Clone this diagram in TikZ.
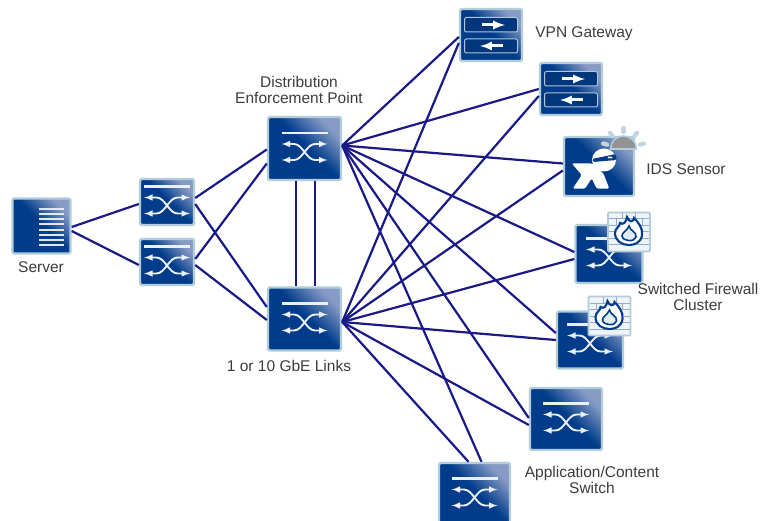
\documentclass[tikz,border=0pt]{standalone}
\usepackage{fontspec}
\setmainfont{Liberation Sans}
\definecolor{swdark}{RGB}{0,60,138}
\definecolor{swlight}{RGB}{135,155,198}
\definecolor{swframe}{RGB}{178,204,218}
\definecolor{linkblue}{RGB}{25,25,135}
\definecolor{labelgray}{RGB}{60,60,60}
\definecolor{brickline}{RGB}{150,170,205}
\pgfdeclareverticalshading{iconfade}{100bp}{color(0bp)=(swdark); color(52bp)=(swdark); color(74bp)=(swlight); color(100bp)=(swlight)}
\tikzset{
    iconbox/.style={draw=swframe, line width=2.4pt, rounded corners=1.5pt, shading=iconfade, shading angle=-45, inner sep=0pt},
    link/.style={draw=linkblue, line width=2.2pt},
    label/.style={text=labelgray, font=\fontsize{15.5}{15.5}\selectfont, align=center, inner sep=0pt},
    swbox/.style={iconbox, path picture={
        \begin{scope}[shift={(path picture bounding box.center)}, scale=#1, white!92!swdark, line width=1.9pt, >=latex]
            \draw[line width=2.4pt] (-23,-15.5) -- (23,-15.5);
            \draw[<->] (-23,-4.5) -- (-12,-4.5) .. controls (-2,-4.5) and (2,11.5) .. (12,11.5) -- (23,11.5);
            \draw[<->] (-23,11.5) -- (-12,11.5) .. controls (-2,11.5) and (2,-4.5) .. (12,-4.5) -- (23,-4.5);
        \end{scope}}},
    vpnbox/.style={iconbox, path picture={
        \begin{scope}[shift={(path picture bounding box.center)}, white!70!swdark, line width=1pt]
            \draw[fill=swdark!90!black, rounded corners=2pt] (-26.5,-17.5) rectangle (26.5,-3);
            \draw[fill=swdark!90!black, rounded corners=2pt] (-26.5,4) rectangle (26.5,18);
            \draw[white, line width=3pt, -latex] (-9,-10) -- (14,-10);
            \draw[white, line width=3pt, -latex] (12,11) -- (-11,11);
        \end{scope}}},
    serverbox/.style={iconbox, path picture={
        \begin{scope}[shift={(path picture bounding box.center)}, white!88!swdark, line width=1.7pt]
            \foreach \rowy in {-17,-12,-7,-2,4,9,14,19}
                \draw (-2.5,\rowy) -- (22.5,\rowy);
        \end{scope}}},
    idsbox/.style={iconbox, path picture={
        \begin{scope}[shift={(path picture bounding box.center)}]
            \fill[white] (-27.3,-3.2) -- (-7.3,-3.2) -- (4.3,6.8) -- (10.3,22.2) -- (-2.3,22.2) -- (-7.3,11.8)
                -- (-14,22.2) -- (-26.3,22.2) -- (-17.3,8.5) -- cycle;
            \fill[white] (5,-6.5) ellipse (12 and 11.5);
            \fill[swdark] (-7,-7.5) -- (17,-12.5) -- (17.5,-6.5) -- (-6,-4.5) -- cycle;
            \fill[white] (11,-9) ellipse (2.5 and 1);
        \end{scope}}},
    fwbadge/.pic={
        \draw[swframe, fill=white!78!swframe, line width=1.6pt, rounded corners=1pt] (-21,-19.5) rectangle (21,19.5);
        \foreach \rowy in {-13,-6.5,0,6.5,13}
            \draw[brickline, line width=1pt] (-20,\rowy) -- (20,\rowy);
        \foreach \colx in {-13,0,13}
            \foreach \rowy in {-13,0}
                \draw[brickline, line width=1pt] (\colx,\rowy) -- (\colx,\rowy+6.5);
        \foreach \colx in {-6.5,6.5}
            \foreach \rowy in {-19.5,-6.5,6.5}
                \draw[brickline, line width=1pt] (\colx,\rowy) -- (\colx,\rowy+6.5);
        \draw[swdark, fill=white, line width=2.1pt] (-2,-15) .. controls (0,-9) and (5,-10) .. (5,-14)
            .. controls (9,-10) and (14,-4) .. (13,3) .. controls (12,11) and (5,13) .. (0,13)
            .. controls (-7,13) and (-14,9) .. (-14,1) .. controls (-14,-4) and (-9,-5) .. (-9,-9)
            .. controls (-6,-7) and (-3,-9) .. (-2,-15) -- cycle;
        \draw[swdark, fill=white!60!swframe, line width=1.6pt] (0,-6) .. controls (1,-1) and (8,0) .. (7,5)
            .. controls (6,10) and (-6,10) .. (-7,4) .. controls (-7,0) and (-2,-1) .. (0,-6) -- cycle;
    },
    sunbadge/.pic={
        \foreach \rayang in {-165,-130,-90,-50,-15}
            \draw[swframe!80!white, line width=4.4pt, line cap=round] (\rayang:17) -- (\rayang:21);
        \draw[swframe, fill=gray!85!white, line width=1.6pt] (-13,0) arc[start angle=180, end angle=360, radius=13] -- cycle;
    }
}
\begin{document}
\begin{tikzpicture}[x=1pt, y=-1pt]
    \clip (0,0) rectangle (768,521);
    \fill[white] (0,0) rectangle (768,521);

    \node[serverbox, minimum width=58pt, minimum height=55pt] (server) at (41.5,226) {};
    \node[swbox=.74, minimum width=54pt, minimum height=46pt] (edgea) at (167,202) {};
    \node[swbox=.74, minimum width=54pt, minimum height=46pt] (edgeb) at (167,262) {};
    \node[swbox=1, minimum width=73pt, minimum height=63pt] (dist) at (304.5,148.5) {};
    \node[swbox=1, minimum width=73pt, minimum height=63pt] (core) at (304.5,319) {};
    \node[vpnbox, minimum width=62pt, minimum height=52pt] (vpna) at (491,35) {};
    \node[vpnbox, minimum width=62pt, minimum height=52pt] (vpnb) at (571,89) {};
    \node[idsbox, minimum width=70pt, minimum height=59pt] (ids) at (599,166.5) {};
    \node[swbox=.88, minimum width=67pt, minimum height=58pt] (fwa) at (609,254) {};
    \node[swbox=.88, minimum width=66pt, minimum height=57pt] (fwb) at (590,340) {};
    \node[swbox=1, minimum width=72pt, minimum height=62pt] (app) at (566,419) {};
    \node[swbox=1, minimum width=71pt, minimum height=62pt] (low) at (474.5,494) {};

    \coordinate (distout) at ([yshift=3pt]dist.east);
    \coordinate (coreout) at ([yshift=-3pt]core.east);

    \draw[link] ([yshift=-1pt]server.east) -- ([yshift=-2pt]edgea.west);
    \draw[link] ([yshift=-5pt]server.east) -- ([yshift=-3pt]edgeb.west);
    \draw[link] ([yshift=4pt]edgea.east) -- ([yshift=-1pt]dist.west);
    \draw[link] ([yshift=-2pt]edgea.east) -- ([yshift=12pt]core.west);
    \draw[link] ([yshift=3pt]edgeb.east) -- ([yshift=-15pt]dist.west);
    \draw[link] ([yshift=-3pt]edgeb.east) -- ([yshift=-1pt]core.west);
    \draw[link] ([xshift=-8.5pt]dist.south) -- ([xshift=-8.5pt]core.north);
    \draw[link] ([xshift=10.5pt]dist.south) -- ([xshift=10.5pt]core.north);

    \foreach \target/\ya/\yb in {vpna/-2/-8, vpnb/0/-7, ids/3/-4, fwa/2/-5, fwb/7/0, app/1/-6}{
        \draw[link] (distout) -- ([yshift=\ya pt]\target.west);
        \draw[link] (coreout) -- ([yshift=\yb pt]\target.west);
    }
    \draw[link] (distout) -- ([xshift=7pt]low.north);
    \draw[link] (coreout) -- ([xshift=-6pt]low.north);

    \pic at (629,232) {fwbadge};
    \pic at (609.5,316) {fwbadge};
    \pic at (623.5,149) {sunbadge};

    \node[label] (serverlabel) at (41,267) {Server};
    \node[label] (distlabel) at (299,90) {Distribution\\Enforcement Point};
    \node[label] (linkslabel) at (289,366) {1 or 10 GbE Links};
    \node[label] (vpnlabel) at (584,34) {VPN Gateway};
    \node[label] (idslabel) at (686,169) {IDS Sensor};
    \node[label] (fwlabel) at (698,297) {Switched Firewall\\Cluster};
    \node[label] (applabel) at (592,480) {Application/Content\\Switch};
\end{tikzpicture}
\end{document}
